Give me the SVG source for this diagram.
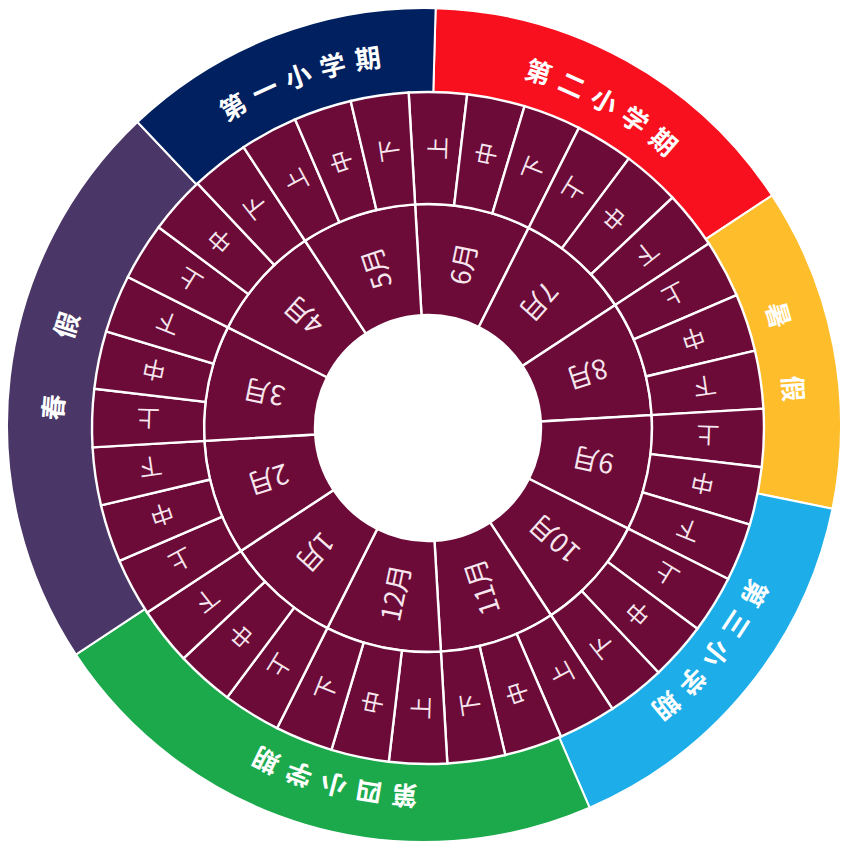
<svg xmlns="http://www.w3.org/2000/svg" xmlns:xlink="http://www.w3.org/1999/xlink" width="846" height="851" viewBox="0 0 846 851">
<style>
.seg{stroke:#ffffff;stroke-width:2}
.cell{fill:#6C0A38;stroke:#ffffff;stroke-width:2.4}
.ol{font-family:"Noto Sans CJK SC",sans-serif;font-size:26px;font-weight:700;fill:#ffffff;text-anchor:middle}
.ml{font-family:"Noto Sans CJK SC",sans-serif;font-size:27px;fill:#F7E6EE;text-anchor:middle;dominant-baseline:central}
.dl{font-family:"Noto Sans CJK SC",sans-serif;font-size:23px;fill:#F7E6EE;text-anchor:middle;dominant-baseline:central}
</style>
<defs>
<path id="dc" d="M 428 92 A 336 336 0 0 1 486.346 97.105 L 466.897 207.403 A 224 224 0 0 0 428 204 Z"/>
<path id="mc" d="M 428 204 A 224 224 0 0 1 540 234.010 L 484.5 330.139 A 113 113 0 0 0 428 315 Z"/>
<path id="lp" fill="none" d="M 424 64 A 361 361 0 1 1 424 786 A 361 361 0 1 1 424 64 A 361 361 0 1 1 424 786 A 361 361 0 1 1 424 64"/>
</defs>
<rect width="846" height="851" fill="#ffffff"/>

<g id="term2">
<path class="seg" fill="#F8101E" d="M 435.64 8.16 A 417 417 0 0 1 772.13 195.45 L 699.50 243.34 A 330 330 0 0 0 433.21 95.13 Z"/>
<text class="ol" letter-spacing="9"><textPath href="#lp" startOffset="2455.5">第二小学期</textPath></text>
</g>
<g id="summer">
<path class="seg" fill="#FEBE2C" d="M 772.13 195.45 A 417 417 0 0 1 832.48 508.85 L 747.26 491.36 A 330 330 0 0 0 699.50 243.34 Z"/>
<text class="ol" letter-spacing="20.6"><textPath href="#lp" startOffset="2772.7">暑 假</textPath></text>
</g>
<g id="term3">
<path class="seg" fill="#1DAEE9" d="M 832.48 508.85 A 417 417 0 0 1 589.61 807.70 L 555.06 727.86 A 330 330 0 0 0 747.26 491.36 Z"/>
<text class="ol" letter-spacing="9"><textPath href="#lp" startOffset="3079.2">第三小学期</textPath></text>
</g>
<g id="term4">
<path class="seg" fill="#1BA94C" d="M 589.61 807.70 A 417 417 0 0 1 75.87 654.55 L 148.50 606.66 A 330 330 0 0 0 555.06 727.86 Z"/>
<text class="ol" letter-spacing="9"><textPath href="#lp" startOffset="3495.0">第四小学期</textPath></text>
</g>
<g id="spring">
<path class="seg" fill="#4A3767" d="M 75.87 654.55 A 417 417 0 0 1 137.48 122.02 L 197.26 185.23 A 330 330 0 0 0 148.50 606.66 Z"/>
<text class="ol" letter-spacing="24.6"><textPath href="#lp" startOffset="4038.5">春 假</textPath></text>
</g>
<g id="term1">
<path class="seg" fill="#002060" d="M 137.48 122.02 A 417 417 0 0 1 435.64 8.16 L 433.21 95.13 A 330 330 0 0 0 197.26 185.23 Z"/>
<text class="ol" letter-spacing="9"><textPath href="#lp" startOffset="4414.9">第一小学期</textPath></text>
</g>

<g id="m6">
<use href="#mc" class="cell" transform="rotate(-3.3 428 428)"/>
<use href="#dc" class="cell" transform="rotate(-3.3 428 428)"/>
<use href="#dc" class="cell" transform="rotate(6.7 428 428)"/>
<use href="#dc" class="cell" transform="rotate(16.7 428 428)"/>
<text class="ml" transform="rotate(11.7 428 428) translate(428 260) rotate(-90)">6月</text>
<text class="dl" transform="rotate(1.7 428 428) translate(428 148) rotate(-90)">上</text>
<text class="dl" transform="rotate(11.7 428 428) translate(428 148) rotate(-90)">中</text>
<text class="dl" transform="rotate(21.7 428 428) translate(428 148) rotate(-90)">下</text>
</g>
<g id="m7">
<use href="#mc" class="cell" transform="rotate(26.7 428 428)"/>
<use href="#dc" class="cell" transform="rotate(26.7 428 428)"/>
<use href="#dc" class="cell" transform="rotate(36.7 428 428)"/>
<use href="#dc" class="cell" transform="rotate(46.7 428 428)"/>
<text class="ml" transform="rotate(41.7 428 428) translate(428 260) rotate(90)">7月</text>
<text class="dl" transform="rotate(31.7 428 428) translate(428 148) rotate(90)">上</text>
<text class="dl" transform="rotate(41.7 428 428) translate(428 148) rotate(90)">中</text>
<text class="dl" transform="rotate(51.7 428 428) translate(428 148) rotate(90)">下</text>
</g>
<g id="m8">
<use href="#mc" class="cell" transform="rotate(56.7 428 428)"/>
<use href="#dc" class="cell" transform="rotate(56.7 428 428)"/>
<use href="#dc" class="cell" transform="rotate(66.7 428 428)"/>
<use href="#dc" class="cell" transform="rotate(76.7 428 428)"/>
<text class="ml" transform="rotate(71.7 428 428) translate(428 260) rotate(90)">8月</text>
<text class="dl" transform="rotate(61.7 428 428) translate(428 148) rotate(90)">上</text>
<text class="dl" transform="rotate(71.7 428 428) translate(428 148) rotate(90)">中</text>
<text class="dl" transform="rotate(81.7 428 428) translate(428 148) rotate(90)">下</text>
</g>
<g id="m9">
<use href="#mc" class="cell" transform="rotate(86.7 428 428)"/>
<use href="#dc" class="cell" transform="rotate(86.7 428 428)"/>
<use href="#dc" class="cell" transform="rotate(96.7 428 428)"/>
<use href="#dc" class="cell" transform="rotate(106.7 428 428)"/>
<text class="ml" transform="rotate(101.7 428 428) translate(428 260) rotate(90)">9月</text>
<text class="dl" transform="rotate(91.7 428 428) translate(428 148) rotate(90)">上</text>
<text class="dl" transform="rotate(101.7 428 428) translate(428 148) rotate(90)">中</text>
<text class="dl" transform="rotate(111.7 428 428) translate(428 148) rotate(90)">下</text>
</g>
<g id="m10">
<use href="#mc" class="cell" transform="rotate(116.7 428 428)"/>
<use href="#dc" class="cell" transform="rotate(116.7 428 428)"/>
<use href="#dc" class="cell" transform="rotate(126.7 428 428)"/>
<use href="#dc" class="cell" transform="rotate(136.7 428 428)"/>
<text class="ml" transform="rotate(131.7 428 428) translate(428 260) rotate(90)">10月</text>
<text class="dl" transform="rotate(121.7 428 428) translate(428 148) rotate(90)">上</text>
<text class="dl" transform="rotate(131.7 428 428) translate(428 148) rotate(90)">中</text>
<text class="dl" transform="rotate(141.7 428 428) translate(428 148) rotate(90)">下</text>
</g>
<g id="m11">
<use href="#mc" class="cell" transform="rotate(146.7 428 428)"/>
<use href="#dc" class="cell" transform="rotate(146.7 428 428)"/>
<use href="#dc" class="cell" transform="rotate(156.7 428 428)"/>
<use href="#dc" class="cell" transform="rotate(166.7 428 428)"/>
<text class="ml" transform="rotate(161.7 428 428) translate(428 260) rotate(90)">11月</text>
<text class="dl" transform="rotate(151.7 428 428) translate(428 148) rotate(90)">上</text>
<text class="dl" transform="rotate(161.7 428 428) translate(428 148) rotate(90)">中</text>
<text class="dl" transform="rotate(171.7 428 428) translate(428 148) rotate(90)">下</text>
</g>
<g id="m12">
<use href="#mc" class="cell" transform="rotate(176.7 428 428)"/>
<use href="#dc" class="cell" transform="rotate(176.7 428 428)"/>
<use href="#dc" class="cell" transform="rotate(186.7 428 428)"/>
<use href="#dc" class="cell" transform="rotate(196.7 428 428)"/>
<text class="ml" transform="rotate(191.7 428 428) translate(428 260) rotate(90)">12月</text>
<text class="dl" transform="rotate(181.7 428 428) translate(428 148) rotate(90)">上</text>
<text class="dl" transform="rotate(191.7 428 428) translate(428 148) rotate(90)">中</text>
<text class="dl" transform="rotate(201.7 428 428) translate(428 148) rotate(90)">下</text>
</g>
<g id="m1">
<use href="#mc" class="cell" transform="rotate(206.7 428 428)"/>
<use href="#dc" class="cell" transform="rotate(206.7 428 428)"/>
<use href="#dc" class="cell" transform="rotate(216.7 428 428)"/>
<use href="#dc" class="cell" transform="rotate(226.7 428 428)"/>
<text class="ml" transform="rotate(221.7 428 428) translate(428 260) rotate(-90)">1月</text>
<text class="dl" transform="rotate(211.7 428 428) translate(428 148) rotate(-90)">上</text>
<text class="dl" transform="rotate(221.7 428 428) translate(428 148) rotate(-90)">中</text>
<text class="dl" transform="rotate(231.7 428 428) translate(428 148) rotate(-90)">下</text>
</g>
<g id="m2">
<use href="#mc" class="cell" transform="rotate(236.7 428 428)"/>
<use href="#dc" class="cell" transform="rotate(236.7 428 428)"/>
<use href="#dc" class="cell" transform="rotate(246.7 428 428)"/>
<use href="#dc" class="cell" transform="rotate(256.7 428 428)"/>
<text class="ml" transform="rotate(251.7 428 428) translate(428 260) rotate(-90)">2月</text>
<text class="dl" transform="rotate(241.7 428 428) translate(428 148) rotate(-90)">上</text>
<text class="dl" transform="rotate(251.7 428 428) translate(428 148) rotate(-90)">中</text>
<text class="dl" transform="rotate(261.7 428 428) translate(428 148) rotate(-90)">下</text>
</g>
<g id="m3">
<use href="#mc" class="cell" transform="rotate(266.7 428 428)"/>
<use href="#dc" class="cell" transform="rotate(266.7 428 428)"/>
<use href="#dc" class="cell" transform="rotate(276.7 428 428)"/>
<use href="#dc" class="cell" transform="rotate(286.7 428 428)"/>
<text class="ml" transform="rotate(281.7 428 428) translate(428 260) rotate(-90)">3月</text>
<text class="dl" transform="rotate(271.7 428 428) translate(428 148) rotate(-90)">上</text>
<text class="dl" transform="rotate(281.7 428 428) translate(428 148) rotate(-90)">中</text>
<text class="dl" transform="rotate(291.7 428 428) translate(428 148) rotate(-90)">下</text>
</g>
<g id="m4">
<use href="#mc" class="cell" transform="rotate(296.7 428 428)"/>
<use href="#dc" class="cell" transform="rotate(296.7 428 428)"/>
<use href="#dc" class="cell" transform="rotate(306.7 428 428)"/>
<use href="#dc" class="cell" transform="rotate(316.7 428 428)"/>
<text class="ml" transform="rotate(311.7 428 428) translate(428 260) rotate(-90)">4月</text>
<text class="dl" transform="rotate(301.7 428 428) translate(428 148) rotate(-90)">上</text>
<text class="dl" transform="rotate(311.7 428 428) translate(428 148) rotate(-90)">中</text>
<text class="dl" transform="rotate(321.7 428 428) translate(428 148) rotate(-90)">下</text>
</g>
<g id="m5">
<use href="#mc" class="cell" transform="rotate(326.7 428 428)"/>
<use href="#dc" class="cell" transform="rotate(326.7 428 428)"/>
<use href="#dc" class="cell" transform="rotate(336.7 428 428)"/>
<use href="#dc" class="cell" transform="rotate(346.7 428 428)"/>
<text class="ml" transform="rotate(341.7 428 428) translate(428 260) rotate(-90)">5月</text>
<text class="dl" transform="rotate(331.7 428 428) translate(428 148) rotate(-90)">上</text>
<text class="dl" transform="rotate(341.7 428 428) translate(428 148) rotate(-90)">中</text>
<text class="dl" transform="rotate(351.7 428 428) translate(428 148) rotate(-90)">下</text>
</g>
<g id="connectors"/>
</svg>
